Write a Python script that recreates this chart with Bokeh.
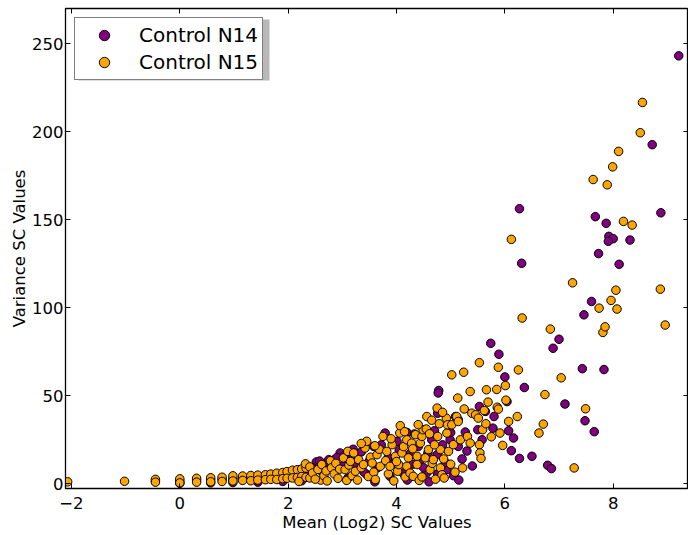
from bokeh.plotting import figure
from bokeh.models import Range1d, LinearAxis, FixedTicker, Legend, LegendItem, ColumnDataSource, BoxAnnotation
from bokeh.embed import file_html
from bokeh.resources import INLINE

# ---------------- data ----------------
x_ticks = [-2, 0, 2, 4, 6, 8]
y_ticks = [0, 50, 100, 150, 200, 250]
x_tick_labels = {-2: "\u22122", 0: "0", 2: "2", 4: "4", 6: "6", 8: "8"}
series_names = ["Control N14", "Control N15"]

n14_x = [9.21, 8.72, 6.27, 7.67, 7.87, 8.88, 7.92, 8.00, 7.91, 8.31, 7.73, 8.11, 6.31, 7.60, 7.46,
         7.00, 6.89, 5.74, 5.89, 6.00, 6.36, 7.43, 7.83, 4.78, 4.77, 7.11, 7.48, 7.65, 6.79, 6.86,
         6.50, 6.27, 6.12, 6.16, 6.07, 6.04, 5.78, 5.58, 5.50, 5.80, 5.64, 5.53, 5.27, 5.14, 5.21,
         5.09, 5.14, 4.76, 4.99, 4.65, 4.75, 4.33, 4.19, 4.01, 3.79, 3.58, 4.44, 4.93, 4.56, 4.76,
         3.45, 3.88,
         2.52, 2.96, 2.45, 2.60, 2.70, 2.85, 3.00, 3.15, 3.25, 3.35, 3.40, 3.50, 3.65, 3.72, 3.85,
         3.95, 4.05, 4.12, 4.25, 4.30, 4.40, 4.50, 4.58, 4.70, 4.85, 4.90, 5.00, 5.05, 5.30, 5.40,
         3.10, 3.60, 4.20, 4.60, 5.15, 2.58, 2.75, 2.90, 3.05, 3.20,
         -0.45, 0.00, 0.31, 0.57, 0.78, 0.98, 1.16, 1.31, 1.44, 1.58, 1.68, 1.79, 1.90, 1.98, 2.08,
         2.17, 2.25, 2.33, 0.00, 0.57, 0.98, 1.44, 1.90, 2.25]
n14_y = [243.1, 192.6, 156.2, 151.7, 147.9, 153.9, 140.5, 139.2, 137.7, 138.4, 130.7, 124.6, 125.2, 103.5, 95.9,
         82.0, 76.9, 79.7, 73.5, 60.6, 54.6, 65.3, 64.8, 52.9, 51.5, 45.2, 35.7, 29.5, 10.4, 8.5,
         15.5, 14.3, 18.7, 25.9, 30.0, 46.6, 31.5, 24.9, 30.6, 38.1, 41.0, 43.8, 29.3, 21.1, 14.0,
         38.1, 36.3, 40.0, 24.9, 24.9, 16.4, 28.2, 29.1, 24.0, 28.7, 21.1, 13.6, 7.9, 6.1, 5.5,
         5.1, 4.1,
         12.3, 17.4, 9.0, 7.5, 11.5, 13.5, 10.0, 15.5, 11.0, 18.0, 6.5, 13.0, 9.0, 22.0, 15.0,
         11.5, 19.0, 6.0, 17.0, 11.0, 21.0, 9.0, 17.5, 30.0, 22.0, 12.0, 29.0, 4.5, 18.5, 10.0,
         3.0, 1.0, 2.0, 1.0, 2.0, 12.8, 13.6, 14.8, 16.2, 19.5,
         1.5, 1.5, 2.0, 2.2, 2.5, 2.8, 3.0, 3.2, 3.5, 3.7, 4.0, 4.2, 4.6, 5.0, 5.5,
         5.8, 6.5, 7.0, 0.2, 0.4, 0.6, 0.8, 1.2, 1.6]

n15_x = [-2.07, -1.02, -0.45, -0.45, 0.00, 0.00, 0.31, 0.31, 0.57, 0.57, 0.78, 0.78, 0.98, 0.98,
         1.16, 1.16, 1.31, 1.31, 1.44, 1.44, 1.58, 1.58, 1.68, 1.68, 1.79, 1.79, 1.90, 1.90, 1.98, 1.98,
         2.08, 2.08, 2.17, 2.17, 2.25, 2.25, 2.33, 2.33, 2.20, 2.40, 2.60,
         2.32, 2.40, 2.45, 2.50, 2.55, 2.62, 2.66, 2.70, 2.72, 2.78, 2.80, 2.85, 2.88, 2.92, 2.95,
         3.02, 3.05, 3.08, 3.10, 3.12, 3.15, 3.18, 3.21, 3.24, 3.28, 3.30, 3.35, 3.39, 3.42, 3.45,
         3.48, 3.52, 3.55, 3.58, 3.61, 3.64, 3.68, 3.70, 3.75, 3.80, 3.82, 3.85, 3.88, 3.92, 3.95,
         3.98, 4.02, 4.04, 4.06, 4.07, 4.10, 4.13, 4.16, 4.19, 4.19, 4.22, 4.25, 4.28, 4.31, 4.35,
         4.38, 4.38, 4.42, 4.44, 4.47, 4.47, 4.49, 4.53, 4.55, 4.56, 4.59, 4.61, 4.62, 4.66, 4.68,
         4.72, 4.75, 4.76, 4.79, 4.81, 4.81, 4.84, 4.87, 4.88, 4.92, 4.93, 4.94, 4.96, 5.00, 5.02,
         5.02, 5.05, 5.08, 5.11, 5.13, 5.14, 5.18, 5.22, 5.24, 5.25, 5.31, 5.36, 5.36, 5.39, 5.46,
         5.51, 5.53, 5.53, 5.54, 5.56, 5.59, 5.62, 5.65, 5.66, 5.69, 5.75, 5.85, 5.86, 5.88, 5.88,
         5.91, 5.96, 6.01, 6.02, 6.07, 6.12, 6.23, 6.25, 6.32, 6.63, 6.71, 6.74, 6.84, 7.04, 7.25,
         7.28, 7.49, 7.63, 7.74, 7.81, 7.85, 7.89, 7.96, 7.99, 8.05, 8.07, 8.10, 8.19, 8.35, 8.50,
         8.54, 8.87, 8.96,
         3.60, 3.90, 4.15, 4.40, 4.65, 4.85, 3.35, 4.00, 4.30, 4.70]
n15_y = [1.0, 1.3, 2.4, 0.8, 2.7, 0.4, 3.0, 0.8, 3.3, 1.0, 3.6, 1.2, 4.4, 1.5,
         4.3, 1.8, 4.6, 1.6, 4.8, 2.0, 5.0, 2.2, 5.4, 2.4, 5.9, 2.3, 6.3, 2.8, 6.8, 3.0,
         7.6, 3.2, 7.9, 3.5, 8.3, 4.0, 8.8, 3.6, 1.2, 3.2, 2.0,
         11.2, 9.5, 6.0, 2.5, 8.0, 10.8, 4.5, 7.2, 1.5, 13.0, 9.0, 5.5, 11.5, 3.0, 8.2,
         14.6, 7.9, 1.8, 18.3, 10.5, 12.6, 4.5, 17.4, 7.0, 2.0, 13.6, 9.0, 10.8, 20.2, 24.0,
         4.0, 15.0, 11.7, 6.5, 2.3, 16.4, 19.5, 9.8, 26.8, 13.0, 18.3, 5.5, 9.8, 22.1, 1.5,
         15.5, 7.0, 10.8, 28.7, 32.9, 17.4, 21.0, 3.8, 24.9, 9.8, 14.6, 6.0, 23.0, 4.1, 27.8,
         15.5, 10.8, 1.8, 23.0, 26.8, 3.8, 30.6, 14.6, 31.0, 38.1, 19.3, 28.3, 7.9, 11.5, 13.6,
         2.5, 42.9, 26.8, 34.0, 19.3, 8.9, 5.0, 14.0, 3.2, 37.2, 28.7, 33.4, 18.3, 11.0, 33.4,
         61.8, 22.1, 6.5, 38.1, 48.6, 35.3, 24.9, 8.9, 63.3, 42.4, 26.8, 23.0, 52.3, 40.0, 39.1,
         37.2, 22.1, 68.7, 17.4, 14.3, 30.6, 41.5, 34.0, 53.3, 46.3, 26.6, 53.5, 43.4, 42.3, 66.1,
         28.7, 21.7, 55.7, 47.4, 35.3, 138.8, 38.1, 64.6, 94.1, 28.7, 33.8, 50.6, 87.8, 60.1, 114.1,
         8.9, 42.5, 172.8, 99.7, 85.9, 89.1, 169.8, 104.1, 180.0, 109.9, 99.2, 188.8, 149.0, 146.9, 199.4,
         216.6, 110.5, 90.1,
         21.5, 25.5, 29.5, 33.5, 36.0, 40.5, 22.8, 12.5, 19.8, 22.0]

n14_color = "#800080"
n15_color = "#ffa500"

# ---------------- figure ----------------
FONT = "DejaVu Sans"
p = figure(frame_width=623, frame_height=480,
           x_range=Range1d(-2.11, 9.39), y_range=Range1d(-2.8, 270),
           output_backend="svg", toolbar_location=None,
           min_border_left=65, min_border_right=0, min_border_top=8, min_border_bottom=0)
p.xgrid.visible = False
p.ygrid.visible = False
p.outline_line_color = "black"
p.outline_line_width = 1.3
p.background_fill_color = "white"
p.border_fill_color = "white"

p.xaxis.ticker = FixedTicker(ticks=x_ticks)
p.yaxis.ticker = FixedTicker(ticks=y_ticks)
p.xaxis.major_label_overrides = x_tick_labels
p.xaxis.axis_label = "Mean (Log2) SC Values"
p.yaxis.axis_label = "Variance SC Values"

for ax in [p.xaxis[0], p.yaxis[0]]:
    ax.major_tick_in = 5
    ax.major_tick_out = 0
    ax.minor_tick_in = 0
    ax.minor_tick_out = 0
    ax.axis_line_color = "black"
    ax.major_tick_line_color = "black"
    ax.major_label_text_font = FONT
    ax.major_label_text_font_size = "16.5px"
    ax.major_label_text_color = "black"
    ax.axis_label_text_font = FONT
    ax.axis_label_text_font_size = "16.5px"
    ax.axis_label_text_font_style = "normal"
    ax.axis_label_text_color = "black"
p.xaxis.major_label_standoff = 8
p.xaxis.axis_label_standoff = 1
p.yaxis.major_label_standoff = 2
p.yaxis.axis_label_standoff = 0

# tick marks on the top and right edges (no labels)
for loc, ticks in (("above", x_ticks), ("right", y_ticks)):
    ax = LinearAxis(ticker=FixedTicker(ticks=ticks),
                    major_label_overrides={t: "" for t in ticks},
                    major_label_text_font_size="1px",
                    major_tick_in=5, major_tick_out=0, minor_tick_in=0, minor_tick_out=0,
                    major_label_standoff=0, axis_line_color="black", major_tick_line_color="black")
    p.add_layout(ax, loc)

src14 = ColumnDataSource(dict(x=n14_x, y=n14_y))
src15 = ColumnDataSource(dict(x=n15_x, y=n15_y))
r14 = p.scatter("x", "y", source=src14, size=8.5, fill_color=n14_color, line_color="black", line_width=1)
r15 = p.scatter("x", "y", source=src15, size=8.5, fill_color=n15_color, line_color="black", line_width=1)

# legend drop shadow (screen units relative to the frame)
shadow = BoxAnnotation(left=13, right=204, top=469, bottom=408,
                       left_units="screen", right_units="screen",
                       top_units="screen", bottom_units="screen",
                       fill_color="#888888", fill_alpha=0.6, line_color=None)
p.add_layout(shadow)

legend = Legend(items=[LegendItem(label=series_names[0], renderers=[r14]),
                       LegendItem(label=series_names[1], renderers=[r15])],
                location="top_left", margin=9, padding=4, spacing=1,
                glyph_width=50, glyph_height=26, label_height=26, label_standoff=10,
                label_text_font=FONT, label_text_font_size="20px", label_text_color="black",
                border_line_color="black", border_line_width=1.5,
                background_fill_color="white", background_fill_alpha=1.0)
p.add_layout(legend)

open("out.html", "w").write(file_html(p, INLINE))
